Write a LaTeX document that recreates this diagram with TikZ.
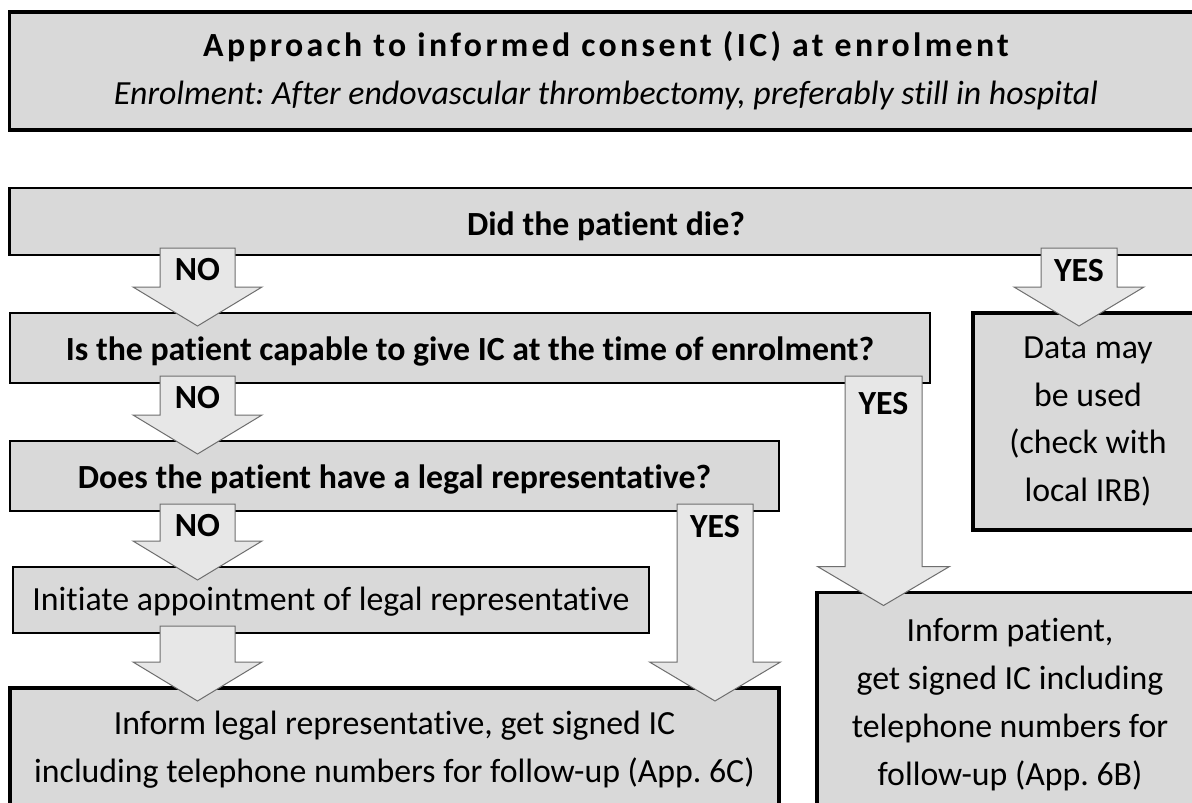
\documentclass[tikz,border=0pt]{standalone}
\usepackage{fontspec}
\setmainfont{Carlito}[Ligatures={TeX,NoCommon}]
\usetikzlibrary{calc}
\definecolor{boxgray}{HTML}{D9D9D9}
\definecolor{arrowfill}{HTML}{E7E7E7}
\definecolor{arrowline}{HTML}{6E6E6E}
% block arrow from the bottom of node #1 to the top of node #2 at x = #3,
% shaft half width #4, head half width #5, shaft-top coordinate named #6
\newcommand{\blockarr}[6]{%
  \path[barrow] let \p1=(#1.south), \p2=(#2.north), \p3=(#3,0) in
    (\x3-#4pt,\y1+7pt) -- (\x3+#4pt,\y1+7pt) -- (\x3+#4pt,\y2+26pt)
    -- (\x3+#5pt,\y2+26pt) -- (\x3,\y2-13pt) -- (\x3-#5pt,\y2+26pt)
    -- (\x3-#4pt,\y2+26pt) -- cycle
    (\x3,\y1+7pt) coordinate (#6);
}
\begin{document}
\frenchspacing
\begin{tikzpicture}[x=1pt,y=-1pt,
  box/.style={draw=black, fill=boxgray, line width=2.2pt, inner sep=0pt,
    outer sep=0pt, align=center, text=black},
  thickbox/.style={box, line width=3.2pt},
  barrow/.style={draw=arrowline, fill=arrowfill, line width=1pt, line join=miter},
  arrlabel/.style={font=\fontsize{33.8}{36}\selectfont\bfseries, inner sep=0pt, text=black},
  qtext/.style={font=\fontsize{33.8}{36}\selectfont\bfseries, text depth=0pt},
  stext/.style={font=\fontsize{33.8}{36}\selectfont, text depth=0pt},
  btext/.style={font=\fontsize{33.8}{47.8}\selectfont}]
\useasboundingbox (0,0) rectangle (1192,803);
\fill[white] (0,0) rectangle (1192,803);

\node[box, line width=3.5pt, minimum width=1193pt, minimum height=118pt,
  font=\fontsize{33.8}{48}\selectfont] (title) at (606,71)
  {{\bfseries\addfontfeatures{LetterSpace=10}Approach to informed consent (IC) at enrolment}\\
   {\itshape Enrolment: After endovascular thrombectomy, preferably still in hospital}};

\node[box, qtext, text height=27.5pt, minimum width=1193pt, minimum height=67pt] (die) at (606,221.5)
  {Did the patient die?};
\node[box, qtext, text height=24.5pt, minimum width=920pt, minimum height=70pt] (cap) at (470,348)
  {Is the patient capable to give IC at the time of enrolment?};
\node[box, qtext, text height=24.5pt, minimum width=769pt, minimum height=70pt] (legal) at (394.5,476)
  {Does the patient have a legal representative?};
\node[box, stext, text height=20.5pt, minimum width=636pt, minimum height=66pt] (init) at (331,600)
  {Initiate appointment of legal representative};
\node[thickbox, btext, minimum width=769pt, minimum height=123pt] (infoleg) at (394.5,749.5)
  {Inform legal representative, get signed IC\\including telephone numbers for follow-up (App. 6C)};
\node[thickbox, btext, minimum width=230pt, minimum height=217pt] (data) at (1088,421.5)
  {Data may\\be used\\(check with\\local IRB)};
\node[thickbox, btext, minimum width=386pt, minimum height=224pt] (infopat) at (1010,704.5)
  {Inform patient,\\get signed IC including\\telephone numbers for\\follow-up (App. 6B)};

\blockarr{die}{cap}{197.5}{37.5}{64.5}{noA}
\blockarr{cap}{legal}{197.5}{37.5}{64.5}{noB}
\blockarr{legal}{init}{197.5}{37.5}{64.5}{noC}
\blockarr{init}{infoleg}{197.5}{37.5}{64.5}{noD}
\blockarr{die}{data}{1079}{38}{65}{yesA}
\blockarr{cap}{infopat}{883.5}{38.5}{66}{yesB}
\blockarr{legal}{infoleg}{715}{38}{65.5}{yesC}

\node[arrlabel] (noAl) at ($(noA)+(0,21.5)$) {NO};
\node[arrlabel] (noBl) at ($(noB)+(0,21.5)$) {NO};
\node[arrlabel] (noCl) at ($(noC)+(0,22)$) {NO};
\node[arrlabel] (yesAl) at ($(yesA)+(0,23)$) {YES};
\node[arrlabel] (yesBl) at ($(yesB)+(0,28)$) {YES};
\node[arrlabel] (yesCl) at ($(yesC)+(0,23)$) {YES};
\end{tikzpicture}
\end{document}
